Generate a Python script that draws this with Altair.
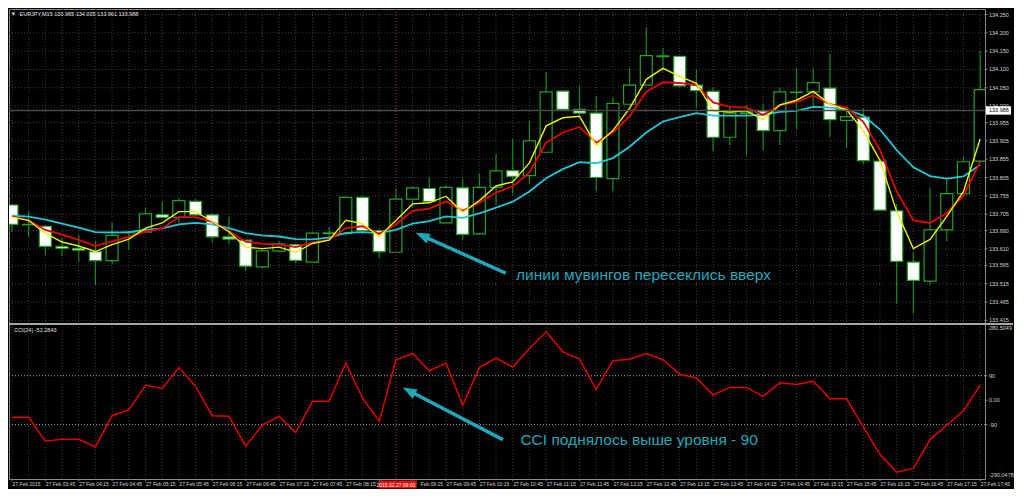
import altair as alt
import pandas as pd

# ---------------- data ----------------
bars = list(range(59))

opens = [133.730, 133.676, 133.672, 133.617, 133.612, 133.603, 133.578, 133.654, 133.656, 133.704,
         133.696, 133.740, 133.703, 133.643, 133.634, 133.561, 133.604, 133.622, 133.574, 133.652,
         133.652, 133.751, 133.660, 133.601, 133.746, 133.775, 133.681, 133.777, 133.651, 133.778,
         133.824, 133.810, 133.874, 134.041, 133.991, 133.981, 133.802, 134.005, 134.057, 134.135,
         134.136, 134.057, 134.040, 133.915, 133.980, 133.987, 133.933, 134.037, 134.039, 134.049,
         133.961, 133.970, 133.850, 133.714, 133.574, 133.522, 133.662, 133.761, 133.850]
highs = [133.733, 133.712, 133.675, 133.640, 133.649, 133.631, 133.682, 133.659, 133.723, 133.740,
         133.750, 133.746, 133.707, 133.697, 133.635, 133.609, 133.631, 133.625, 133.656, 133.670,
         133.754, 133.754, 133.664, 133.775, 133.782, 133.808, 133.785, 133.802, 133.817, 133.869,
         133.911, 133.959, 134.092, 134.042, 134.055, 134.027, 134.024, 134.103, 134.215, 134.158,
         134.137, 134.099, 134.051, 133.997, 134.003, 134.007, 134.051, 134.103, 134.103, 134.143,
         133.990, 133.994, 133.856, 133.732, 133.601, 133.777, 133.802, 133.861, 134.151]
lows = [133.656, 133.643, 133.594, 133.591, 133.575, 133.512, 133.568, 133.607, 133.655, 133.693,
        133.683, 133.698, 133.628, 133.622, 133.549, 133.557, 133.601, 133.570, 133.573, 133.635,
        133.646, 133.656, 133.585, 133.599, 133.725, 133.738, 133.680, 133.635, 133.649, 133.730,
        133.759, 133.788, 133.872, 133.990, 133.972, 133.767, 133.767, 134.003, 134.055, 134.095,
        134.054, 133.994, 133.876, 133.893, 133.866, 133.880, 133.893, 133.937, 133.994, 133.915,
        133.885, 133.841, 133.714, 133.461, 133.434, 133.513, 133.631, 133.759, 133.848]
closes = [133.677, 133.677, 133.617, 133.612, 133.607, 133.578, 133.647, 133.656, 133.706, 133.696,
          133.742, 133.703, 133.643, 133.637, 133.563, 133.605, 133.624, 133.579, 133.653, 133.654,
          133.751, 133.660, 133.603, 133.746, 133.777, 133.739, 133.778, 133.650, 133.778, 133.823,
          133.808, 133.905, 134.039, 133.991, 133.981, 133.805, 134.007, 134.057, 134.138, 134.137,
          134.055, 134.042, 133.915, 133.981, 133.984, 133.933, 134.039, 134.038, 134.064, 133.963,
          133.971, 133.851, 133.716, 133.576, 133.524, 133.662, 133.761, 133.848, 134.045]

ma_fast = [133.697, 133.688, 133.653, 133.629, 133.618, 133.603, 133.622, 133.637, 133.667, 133.681,
           133.712, 133.712, 133.685, 133.657, 133.615, 133.611, 133.615, 133.601, 133.625, 133.634,
           133.688, 133.679, 133.644, 133.688, 133.733, 133.736, 133.754, 133.710, 133.742, 133.782,
           133.793, 133.845, 133.946, 133.968, 133.972, 133.893, 133.933, 133.994, 134.073, 134.103,
           134.081, 134.062, 133.987, 133.984, 133.987, 133.963, 134.003, 134.016, 134.040, 134.005,
           133.990, 133.933, 133.852, 133.712, 133.611, 133.636, 133.699, 133.767, 133.910]
ma_mid = [133.699, 133.688, 133.662, 133.649, 133.635, 133.618, 133.631, 133.643, 133.657, 133.666,
          133.697, 133.697, 133.684, 133.659, 133.630, 133.624, 133.622, 133.615, 133.628, 133.635,
          133.667, 133.672, 133.651, 133.677, 133.714, 133.720, 133.740, 133.714, 133.736, 133.764,
          133.781, 133.819, 133.900, 133.928, 133.943, 133.900, 133.928, 133.972, 134.039, 134.065,
          134.063, 134.058, 134.010, 133.998, 133.996, 133.976, 134.003, 134.011, 134.029, 134.005,
          133.996, 133.957, 133.880, 133.767, 133.688, 133.681, 133.708, 133.756, 133.847]
ma_slow = [133.701, 133.698, 133.690, 133.679, 133.668, 133.656, 133.655, 133.656, 133.662, 133.666,
           133.677, 133.681, 133.677, 133.667, 133.653, 133.647, 133.644, 133.637, 133.636, 133.641,
           133.654, 133.656, 133.653, 133.662, 133.679, 133.686, 133.699, 133.695, 133.707, 133.723,
           133.739, 133.767, 133.803, 133.828, 133.847, 133.844, 133.858, 133.889, 133.928, 133.958,
           133.970, 133.981, 133.974, 133.974, 133.974, 133.976, 133.984, 133.987, 133.998, 133.996,
           133.990, 133.974, 133.936, 133.880, 133.833, 133.809, 133.802, 133.808, 133.840]

cci_vals = [-63, -63, -151, -144, -144, -172, -57, -36, 55, 43,
            120, 51, -57, -59, -169, -92, -59, -119, -4, -4,
            137, 8, -78, 149, 172, 108, 137, -19, 120, 155,
            122, 190, 252, 178, 151, 40, 145, 151, 172, 149,
            96, 82, 19, 47, 47, 14, 64, 58, 70, 5,
            5, -98, -200, -265, -251, -145, -92, -39, 55]

# time axis labels (bar 22's label is hidden by the crosshair label, bar 24's is partly covered)
time_labels = ["27 Feb 2015", "", "27 Feb 03:45", "", "27 Feb 04:15", "", "27 Feb 04:45", "",
               "27 Feb 05:15", "", "27 Feb 05:45", "", "27 Feb 06:15", "", "27 Feb 06:45", "",
               "27 Feb 07:15", "", "27 Feb 07:45", "", "27 Feb 08:15", "", "", "",
               "", "", "27 Feb 09:45", "", "27 Feb 10:15", "", "27 Feb 10:45", "",
               "27 Feb 11:15", "", "27 Feb 11:45", "", "27 Feb 12:15", "", "27 Feb 12:45", "",
               "27 Feb 13:15", "", "27 Feb 13:45", "", "27 Feb 14:15", "", "27 Feb 14:45", "",
               "27 Feb 15:15", "", "27 Feb 15:45", "", "27 Feb 16:15", "", "27 Feb 16:45", "",
               "27 Feb 17:15", "", "27 Feb 17:45"]
partial_label_bar = [24]
partial_label = ["Feb 09:15"]

price_ticks = [134.250, 134.200, 134.150, 134.100, 134.050, 134.000, 133.955, 133.905, 133.855,
               133.805, 133.755, 133.705, 133.660, 133.610, 133.565, 133.515, 133.465, 133.415]
price_tick_labels = ["134.250", "134.200", "134.150", "134.100", "134.050", "134.000", "133.955",
                     "133.905", "133.855", "133.805", "133.755", "133.705", "133.660", "133.610",
                     "133.565", "133.515", "133.465", "133.415"]
cci_top = [280.5049]
cci_top_label = ["280.5049"]
cci_mid = [90, 0, -90]
cci_mid_labels = ["90", "0.00", "-90"]
cci_bottom = [-290.0478]
cci_bottom_label = ["-290.0478"]
cci_levels = [90, -90]
bid_price = [133.988]
bid_label = ["133.988"]
cross_bar = [23]
header = "EURJPY,M15  133.965 134.005 133.961 133.988"
cci_title = "CCI(24) -52.2843"
cross_label = "2015.02.27 09:00"

# annotations (bar index / value coordinates)
arrow1_tail = [29.58, 133.544]
arrow1_end = [24.73, 133.643]
arrow1_tip = [24.19, 133.654]
arrow1_text = [30.2, 133.538]
text1 = "линии мувингов пересеклись вверх"
arrow2_tail = [29.41, -145]
arrow2_end = [23.93, 30]
arrow2_tip = [23.41, 47]
arrow2_text = [30.46, -145]
text2 = "CCI поднялось выше уровня - 90"

# ---------------- layout / style ----------------
W, H = 976, 470
FONT = "Liberation Sans"
GREEN = "#22a322"
WICK = "#168a16"
TEAL = "#20a8b8"
GRID = "#3e3e3e"
LBL = "#d4d4d4"

df = pd.DataFrame({"idx": bars, "open": opens, "high": highs, "low": lows, "close": closes,
                   "fast": ma_fast, "mid": ma_mid, "slow": ma_slow, "cci": cci_vals})
df["dir"] = ["bull" if c >= o else "bear" for o, c in zip(opens, closes)]

x_scale = alt.Scale(domain=[-0.176, 58.29], nice=False, zero=False)
price_scale = alt.Scale(domain=[133.415, 134.250], range=[311.4, 5.5], nice=False, zero=False)
cci_scale = alt.Scale(domain=[-290.0478, 280.5049], range=[470, 315], nice=False, zero=False)


def X(f):
    return alt.X(f + ":Q", scale=x_scale, axis=None)


def PY(f):
    return alt.Y(f + ":Q", scale=price_scale, axis=None)


def CY(f):
    return alt.Y(f + ":Q", scale=cci_scale, axis=None)


base = alt.Chart(df)

# ---- grid and axes drawn as marks ----
tl_df = pd.DataFrame({"i": bars, "t": time_labels})
vgrid = alt.Chart(tl_df).mark_rule(color=GRID, strokeDash=[1, 2], strokeWidth=1).encode(
    x=X("i"), y=alt.value(0), y2=alt.value(H))
tl_ticks = alt.Chart(tl_df).transform_filter("datum.i % 2 == 0").mark_rule(
    color="#8a8a8a", strokeWidth=1).encode(x=X("i"), y=alt.value(H), y2=alt.value(H + 2))
tl_text = alt.Chart(tl_df).transform_filter("datum.t != ''").mark_text(
    align="left", baseline="top", fontSize=5, font=FONT, color=LBL, dx=0.5).encode(
    x=X("i"), y=alt.value(H + 2.5), text="t:N")
pl_df = pd.DataFrame({"i": partial_label_bar, "t": partial_label})
tl_partial = alt.Chart(pl_df).mark_text(
    align="left", baseline="top", fontSize=5, font=FONT, color=LBL, dx=8).encode(
    x=X("i"), y=alt.value(H + 2.5), text="t:N")

pt_df = pd.DataFrame({"v": price_ticks, "t": price_tick_labels})
hgrid = alt.Chart(pt_df).mark_rule(color=GRID, strokeDash=[1, 2], strokeWidth=1).encode(
    y=PY("v"), x=alt.value(0), x2=alt.value(W))
p_ticks = alt.Chart(pt_df).mark_rule(color="#8a8a8a", strokeWidth=1).encode(
    y=PY("v"), x=alt.value(W), x2=alt.value(W + 2.5))
p_text = alt.Chart(pt_df).mark_text(align="left", baseline="middle", fontSize=5.5, font=FONT,
                                    color=LBL).encode(y=PY("v"), x=alt.value(W + 4), text="t:N")

wicks = base.mark_rule(color=WICK, strokeWidth=1.2, clip=True).encode(
    x=X("idx"), y=PY("low"), y2="high:Q")

bodies = base.transform_calculate(
    x0="datum.idx - 0.36", x1="datum.idx + 0.36"
).mark_rect(stroke=GREEN, strokeWidth=1.2, clip=True).encode(
    x=X("x0"), x2="x1:Q", y=PY("open"), y2="close:Q",
    fill=alt.Fill("dir:N", scale=alt.Scale(domain=["bull", "bear"], range=["#000000", "#ffffff"]),
                  legend=None))

slow_line = base.mark_line(color="#1fc8d8", strokeWidth=1.8, clip=True).encode(x=X("idx"), y=PY("slow"))
mid_line = base.mark_line(color="#e80000", strokeWidth=1.8, clip=True).encode(x=X("idx"), y=PY("mid"))
fast_line = base.mark_line(color="#f0f000", strokeWidth=1.4, clip=True).encode(x=X("idx"), y=PY("fast"))

bid_df = pd.DataFrame({"p": bid_price, "t": bid_label})
bid_line = alt.Chart(bid_df).mark_rule(color="#4a4a4a", strokeWidth=1.5).encode(
    y=PY("p"), x=alt.value(0), x2=alt.value(W))
bid_box = alt.Chart(bid_df).mark_point(
    shape="M-1.5,-0.5 L1.5,-0.5 L1.5,0.5 L-1.5,0.5 Z", size=278, filled=True,
    color="#ffffff", opacity=1).encode(y=PY("p"), x=alt.value(W + 13.5))
bid_text = alt.Chart(bid_df).mark_text(align="left", baseline="middle", fontSize=5.5,
                                       font=FONT, color="#000000").encode(
    y=PY("p"), x=alt.value(W + 4), text="t:N")

cross_df = pd.DataFrame({"i": cross_bar, "a": [cross_bar[0] - 1.03], "b": [cross_bar[0] + 1.25],
                         "t": [cross_label]})
cross_line = alt.Chart(cross_df).mark_rule(color="#b01515", strokeDash=[1, 2], strokeWidth=1).encode(
    x=X("i"), y=alt.value(0), y2=alt.value(H))
cross_box = alt.Chart(cross_df).mark_rect(color="#e01010").encode(
    x=X("a"), x2="b:Q", y=alt.value(H + 1.5), y2=alt.value(H + 9.5))
cross_text = alt.Chart(cross_df).mark_text(align="center", baseline="middle", fontSize=5,
                                           font=FONT, color="#ffffff").encode(
    x=X("i"), y=alt.value(H + 5.5), text="t:N")

hdr_df = pd.DataFrame({"t": [header]})
hdr_tri = alt.Chart(hdr_df).mark_point(shape="triangle-down", size=12, filled=True,
                                       color="#e0e0e0", opacity=1).encode(
    x=alt.value(4.5), y=alt.value(5))
hdr_text = alt.Chart(hdr_df).mark_text(align="left", baseline="middle", fontSize=5.5,
                                       font=FONT, color="#e0e0e0").encode(
    x=alt.value(10.5), y=alt.value(5), text="t:N")

a1 = pd.DataFrame({"x": [arrow1_tail[0]], "y": [arrow1_tail[1]], "x2": [arrow1_end[0]],
                   "y2": [arrow1_end[1]], "tx": [arrow1_tip[0]], "ty": [arrow1_tip[1]],
                   "lx": [arrow1_text[0]], "ly": [arrow1_text[1]], "t": [text1]})
a1_line = alt.Chart(a1).mark_rule(color=TEAL, strokeWidth=3.5).encode(
    x=X("x"), y=PY("y"), x2="x2:Q", y2="y2:Q")
a1_head = alt.Chart(a1).mark_point(shape="M0,0 L0.75,2 L-0.75,2 Z", size=200, filled=True,
                                   color=TEAL, opacity=1, angle=294).encode(x=X("tx"), y=PY("ty"))
a1_text = alt.Chart(a1).mark_text(align="left", baseline="middle", fontSize=15.5, font=FONT,
                                  color=TEAL).encode(x=X("lx"), y=PY("ly"), text="t:N")

price_layer = alt.layer(vgrid, hgrid, wicks, bodies, slow_line, mid_line, fast_line, bid_line,
                        cross_line, a1_line, a1_head, a1_text, hdr_tri, hdr_text,
                        p_ticks, p_text, bid_box, bid_text,
                        tl_ticks, tl_text, tl_partial, cross_box, cross_text)

# ---- CCI panel ----
cci_line = base.mark_line(color="#e00000", strokeWidth=1.5, clip=True).encode(
    x=X("idx"), y=CY("cci"))
lv_df = pd.DataFrame({"v": cci_levels})
levels = alt.Chart(lv_df).mark_rule(color="#a8a8a8", strokeDash=[1, 2], strokeWidth=1).encode(
    y=CY("v"), x=alt.value(0), x2=alt.value(W))
sep_df = pd.DataFrame({"v": cci_top})
sep = alt.Chart(sep_df).mark_rule(color="#a6a6a6", strokeWidth=2).encode(
    y=CY("v"), x=alt.value(0), x2=alt.value(W + 28))
ct_df = pd.DataFrame({"t": [cci_title]})
cci_t = alt.Chart(ct_df).mark_text(align="left", baseline="middle", fontSize=5.5, font=FONT,
                                   color="#e0e0e0").encode(x=alt.value(5), y=alt.value(320.5), text="t:N")

ctop_df = pd.DataFrame({"v": cci_top, "t": cci_top_label})
cmid_df = pd.DataFrame({"v": cci_mid, "t": cci_mid_labels})
cbot_df = pd.DataFrame({"v": cci_bottom, "t": cci_bottom_label})
c_top = alt.Chart(ctop_df).mark_text(align="left", baseline="top", fontSize=5.5, font=FONT,
                                     color=LBL, dy=1.5).encode(y=CY("v"), x=alt.value(W + 4), text="t:N")
c_mid = alt.Chart(cmid_df).mark_text(align="left", baseline="middle", fontSize=5.5, font=FONT,
                                     color=LBL).encode(y=CY("v"), x=alt.value(W + 4), text="t:N")
c_mid_ticks = alt.Chart(cmid_df).mark_rule(color="#8a8a8a", strokeWidth=1).encode(
    y=CY("v"), x=alt.value(W), x2=alt.value(W + 2.5))
c_bot = alt.Chart(cbot_df).mark_text(align="left", baseline="bottom", fontSize=5.5, font=FONT,
                                     color=LBL, dy=-1).encode(y=CY("v"), x=alt.value(W + 4), text="t:N")

a2 = pd.DataFrame({"x": [arrow2_tail[0]], "y": [arrow2_tail[1]], "x2": [arrow2_end[0]],
                   "y2": [arrow2_end[1]], "tx": [arrow2_tip[0]], "ty": [arrow2_tip[1]],
                   "lx": [arrow2_text[0]], "ly": [arrow2_text[1]], "t": [text2]})
a2_line = alt.Chart(a2).mark_rule(color=TEAL, strokeWidth=3.5).encode(
    x=X("x"), y=CY("y"), x2="x2:Q", y2="y2:Q")
a2_head = alt.Chart(a2).mark_point(shape="M0,0 L0.75,2 L-0.75,2 Z", size=200, filled=True,
                                   color=TEAL, opacity=1, angle=298).encode(x=X("tx"), y=CY("ty"))
a2_text = alt.Chart(a2).mark_text(align="left", baseline="middle", fontSize=15.5, font=FONT,
                                  color=TEAL).encode(x=X("lx"), y=CY("ly"), text="t:N")

cci_layer = alt.layer(levels, cci_line, sep, cci_t, c_top, c_mid, c_mid_ticks, c_bot,
                      a2_line, a2_head, a2_text)

chart = alt.layer(price_layer, cci_layer).resolve_scale(y="independent").properties(
    width=W, height=H, padding=0, background="#000000"
).configure_view(stroke="#8a8a8a", strokeWidth=1, fill="#000000")

chart.save("out.html", embed_options={"renderer": "svg", "actions": False})
